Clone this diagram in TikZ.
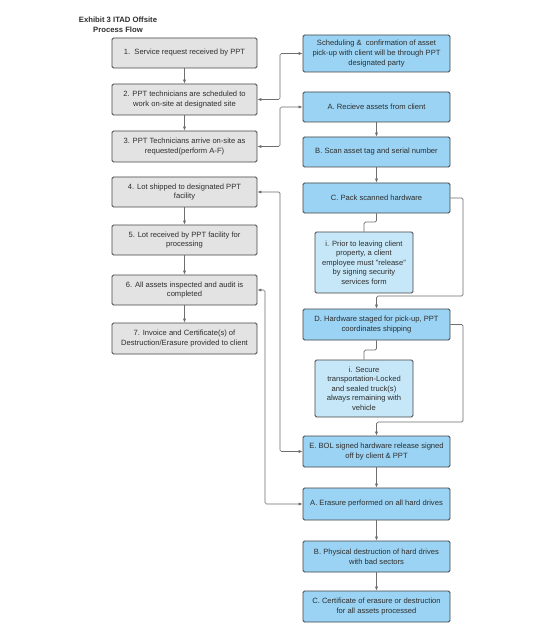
\documentclass[tikz,border=0pt]{standalone}
\usepackage{fontspec}
\setmainfont{Liberation Sans}
\usetikzlibrary{arrows.meta}
\definecolor{grayfill}{HTML}{E3E3E3}
\definecolor{bluefill}{HTML}{9AD3F3}
\definecolor{lightblue}{HTML}{C6E7F8}
\definecolor{boxline}{HTML}{454545}
\definecolor{conn}{HTML}{6E6E6E}
\definecolor{txt}{HTML}{2E2E2E}
\tikzset{
  basebox/.style={draw=boxline, line width=0.8pt, rounded corners=1.5pt, align=center,
    inner sep=0pt, text=txt, font=\fontsize{7.6}{9.6}\selectfont},
  lbox/.style={basebox, fill=grayfill, minimum width=145pt, minimum height=30pt},
  rbox/.style={basebox, fill=bluefill, minimum width=147pt, minimum height=30pt},
  sbox/.style={basebox, fill=lightblue, minimum width=98pt},
  arr/.style={draw=conn, line width=0.7pt, -{Latex[length=4pt,width=3.2pt]}},
  darr/.style={draw=conn, line width=0.7pt, rounded corners=1.5pt, {Latex[length=4pt,width=3.2pt]}-{Latex[length=4pt,width=3.2pt]}},
  plain/.style={draw=conn, line width=0.7pt, rounded corners=1.5pt},
  titletext/.style={font=\bfseries\fontsize{7.7}{9.6}\selectfont, align=center, text=txt, inner sep=0pt}
}
\begin{document}
\begin{tikzpicture}[x=1pt,y=-1pt]
\useasboundingbox (0,0) rectangle (540,636);
\fill[white] (0,0) rectangle (540,636);
\node[titletext] (title) at (118,24.5) {Exhibit 3 ITAD Offsite\\Process Flow};
% left column
\node[lbox] (b1) at (184.5,53) {1.\ \ Service request received by PPT};
\node[lbox, minimum height=31pt] (b2) at (184.5,99.5) {2. PPT technicians are scheduled to\\work on-site at designated site};
\node[lbox, minimum height=31pt] (b3) at (184.5,146.5) {3. PPT Technicians arrive on-site as\\requested(perform A-F)};
\node[lbox] (b4) at (184.5,192) {4. Lot shipped to designated PPT\\facility};
\node[lbox] (b5) at (184.5,240) {5. Lot received by PPT facility for\\processing};
\node[lbox] (b6) at (184.5,290) {6. All assets inspected and audit is\\completed};
\node[lbox, minimum height=31pt] (b7) at (184.5,338.5) {7. Invoice and Certificate(s) of\\Destruction/Erasure provided to client};
% right column
\node[rbox, minimum height=37pt] (sch) at (376.5,53.5) {Scheduling \&\ \ confirmation of asset\\pick-up with client will be through PPT\\designated party};
\node[rbox] (ra) at (376.5,107) {A. Recieve assets from client};
\node[rbox] (rb) at (376.5,152) {B. Scan asset tag and serial number};
\node[rbox] (rc) at (376.5,198) {C. Pack scanned hardware};
\node[sbox, minimum height=61pt] (sc) at (364,262.5) {i. Prior to leaving client\\property, a client\\employee must "release"\\by signing security\\services form};
\node[rbox, minimum height=31pt] (rd) at (376.5,324.5) {D. Hardware staged for pick-up, PPT\\coordinates shipping};
\node[sbox, minimum height=57pt] (sd) at (364,388.5) {i. Secure\\transportation-Locked\\and sealed truck(s)\\always remaining with\\vehicle};
\node[rbox, minimum height=31pt] (re) at (376.5,451.5) {E. BOL signed hardware release signed\\off by client \& PPT};
\node[rbox, minimum height=32pt] (ea) at (376.5,504) {A. Erasure performed on all hard drives};
\node[rbox, minimum height=31pt] (eb) at (376.5,556.5) {B. Physical destruction of hard drives\\with bad sectors};
\node[rbox, minimum height=31pt] (ec) at (376.5,606.5) {C. Certificate of erasure or destruction\\for all assets processed};
% left vertical arrows
\draw[arr] (b1) -- (b2);
\draw[arr] (b2) -- (b3);
\draw[arr] (b4) -- (b5);
\draw[arr] (b5) -- (b6);
\draw[arr] (b6) -- (b7);
% right vertical arrows
\draw[arr] (ra) -- (rb);
\draw[arr] (rb) -- (rc);
\draw[arr] (re) -- (ea);
\draw[arr] (ea) -- (eb);
\draw[arr] (eb) -- (ec);
% sub boxes
\draw[plain] (rc.south) -- (376.5,222) -- (364,222) -- (sc.north);
\draw[plain] (rd.south) -- (376.5,350) -- (364,350) -- (sd.north);
\draw[plain, arr] (rc.east) -- (463,198) -- (463,296) -- (376.5,296) -- (rd.north);
\draw[plain, arr] (rd.east) -- (463,324.5) -- (463,422) -- (376.5,422) -- (re.north);
% cross connectors
\draw[darr] (sch.west) -- (280,53.5) -- (280,99.5) -- (b2.east);
\draw[darr] (ra.west) -- (280,107) -- (280,146.5) -- (b3.east);
\draw[darr] (b4.east) -- (280,192) -- (280,451.5) -- (re.west);
\draw[darr] (b6.east) -- (265,290) -- (265,504) -- (ea.west);
\end{tikzpicture}
\end{document}
